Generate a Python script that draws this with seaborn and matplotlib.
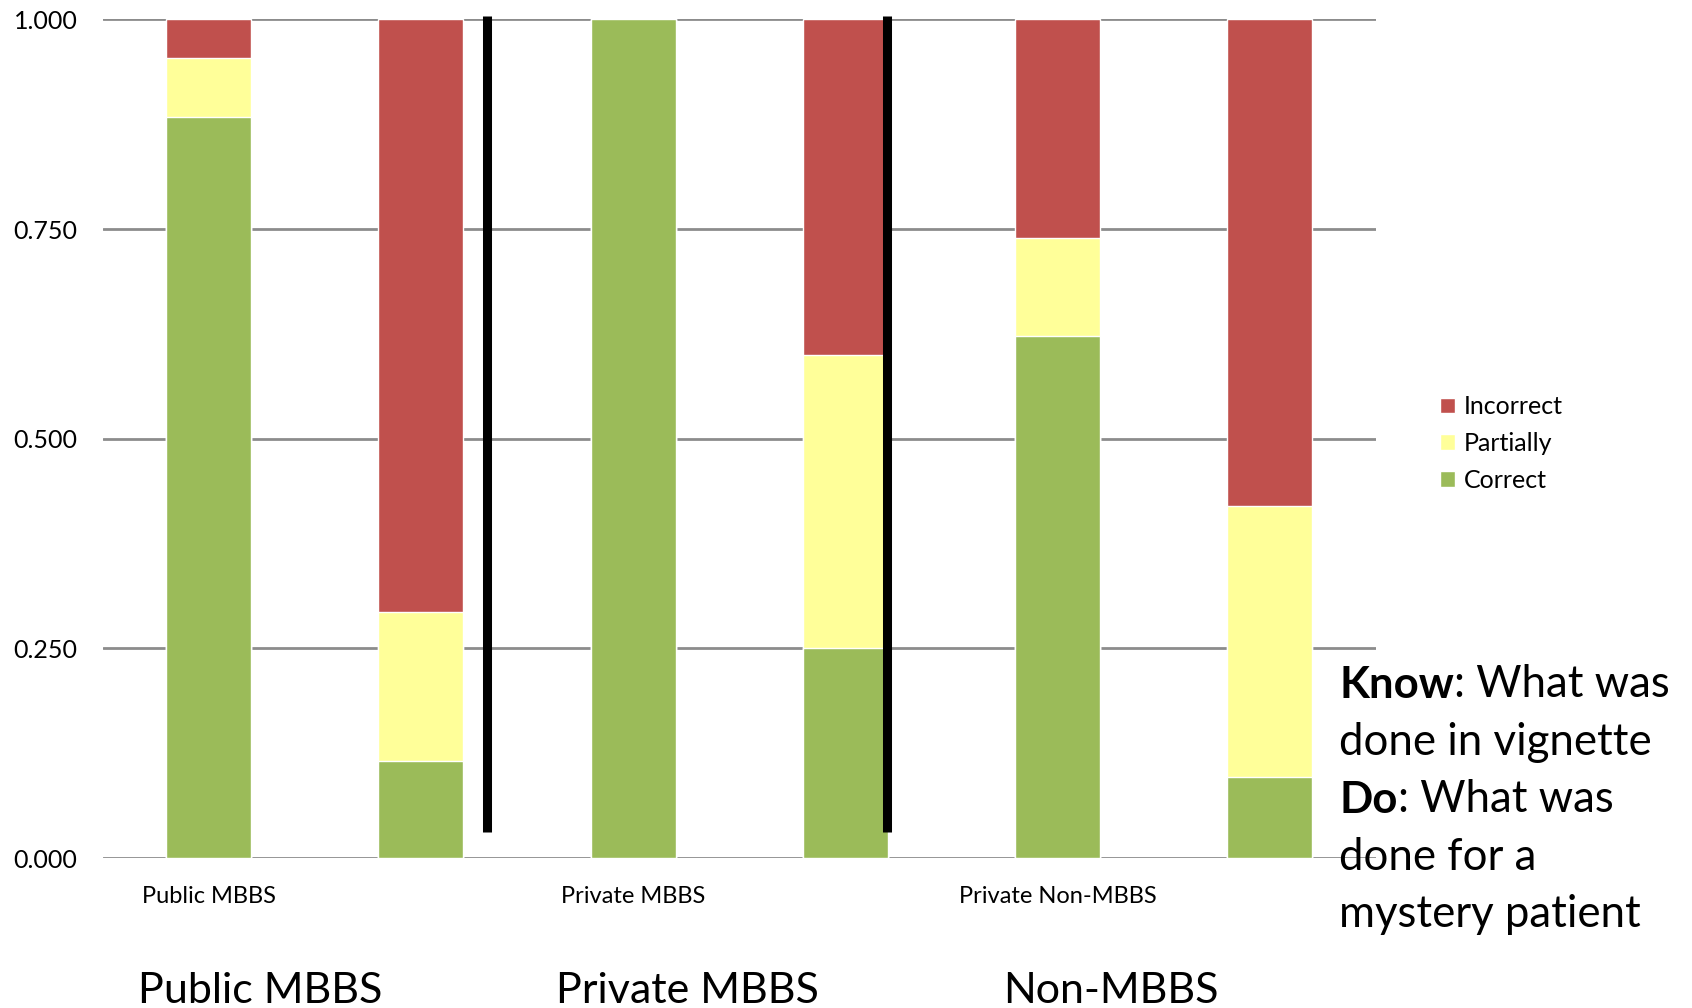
import matplotlib
matplotlib.use("Agg")
import matplotlib.pyplot as plt
import seaborn as sns
import pandas as pd

# data (share of responses, stacked)
bars = ["Public Know", "Public Do", "Private Know", "Private Do", "NonMBBS Know", "NonMBBS Do"]
correct = [0.883, 0.116, 1.000, 0.250, 0.623, 0.097]
partially = [0.071, 0.177, 0.000, 0.350, 0.116, 0.323]
incorrect = [0.046, 0.707, 0.000, 0.400, 0.261, 0.580]
tick_labels = ["Public MBBS", "", "Private MBBS", "", "Private Non-MBBS", ""]
group_labels = ["Public MBBS", "Private MBBS", "Non-MBBS"]
group_x = [-0.332, 1.635, 3.745]
separators = [1.31, 3.196]

df = pd.DataFrame({"bar": bars, "Correct": correct, "Partially": partially, "Incorrect": incorrect})
df["c1"] = df["Correct"]
df["c2"] = df["Correct"] + df["Partially"]
df["c3"] = df["c2"] + df["Incorrect"]

sns.set_style("white")
plt.rcParams['font.family'] = ['Lato', 'DejaVu Sans']
plt.rcParams['text.color'] = 'black'
plt.rcParams['xtick.color'] = 'black'
plt.rcParams['ytick.color'] = 'black'

fig = plt.figure(figsize=(16.92, 10.08), dpi=100)
ax = fig.add_axes([0.0606, 0.1488, 0.7526, 0.832])

# stacked bars: draw cumulative totals back to front
sns.barplot(data=df, x="bar", y="c3", color="#C0504D", width=0.4, saturation=1, ax=ax, label="Incorrect", zorder=3)
sns.barplot(data=df, x="bar", y="c2", color="#FFFF99", width=0.4, saturation=1, ax=ax, label="Partially", zorder=3)
sns.barplot(data=df, x="bar", y="c1", color="#9BBB59", width=0.4, saturation=1, ax=ax, label="Correct", zorder=3)

ax.set_ylim(0, 1.0)
ax.set_xlim(-0.5, 5.5)
ax.set_yticks([0, 0.25, 0.5, 0.75, 1.0])
ax.set_yticklabels([f"{v:.3f}" for v in [0, 0.25, 0.5, 0.75, 1.0]], fontsize=18)
ax.set_xticks(range(len(bars)))
ax.set_xticklabels(tick_labels, fontsize=17)
ax.tick_params(axis="x", length=0, pad=20)
ax.tick_params(axis="y", length=0, pad=18)
ax.set_xlabel("")
ax.set_ylabel("")
for s in ax.spines.values():
    s.set_visible(False)
ax.yaxis.grid(True, color="#8c8c8c", linewidth=2, zorder=0)
ax.set_axisbelow(True)

# hand-drawn separators between groups
for xs in separators:
    ax.plot([xs, xs], [0.031, 1.004], color="black", linewidth=6.5, zorder=5, clip_on=False,
            solid_capstyle="butt")

if ax.get_legend():
    ax.get_legend().remove()
handles, labels = ax.get_legend_handles_labels()
fig.legend(handles, labels, loc="center left", bbox_to_anchor=(0.838, 0.56), frameon=False,
           fontsize=18, handlelength=0.6, handleheight=0.6, handletextpad=0.35, labelspacing=0.55)

# big group labels under the chart
for gx, g in zip(group_x, group_labels):
    ax.text(gx, -0.158, g, fontsize=31, ha="left", va="center")

# side note with bold keywords
lines = [("Know", ": What was"), ("", "done in vignette"), ("Do", ": What was"),
         ("", "done for a"), ("", "mystery patient")]
y0 = 1 - 635 / 934
for k, (b, rest) in enumerate(lines):
    y = y0 - k * 53.2 / 934
    if b:
        t = fig.text(1241 / 1568, y, b, fontsize=31.5, fontweight="bold", va="center", ha="left")
        ax.annotate(rest, xy=(1, 0), xycoords=t, fontsize=31.5, va="bottom", ha="left")
    else:
        fig.text(1241 / 1568, y, rest, fontsize=31.5, va="center", ha="left")

fig.savefig("out.png", dpi=100)
